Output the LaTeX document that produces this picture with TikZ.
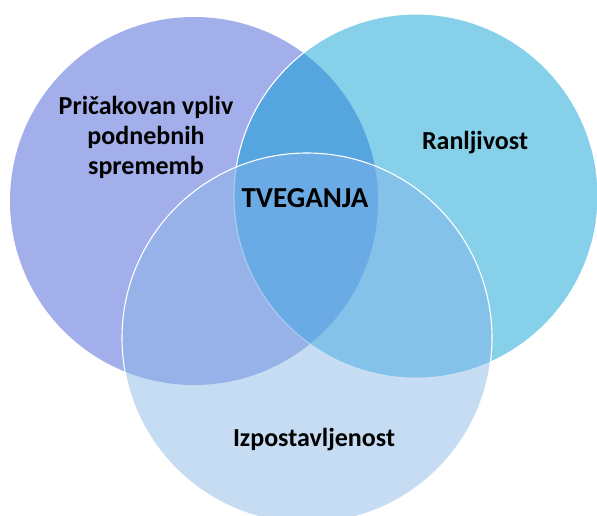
\documentclass[tikz,border=0pt]{standalone}
\usepackage{fontspec}
\setmainfont{Carlito}
\definecolor{vplivfill}{RGB}{163,175,234}
\definecolor{ranljfill}{RGB}{135,208,234}
\definecolor{izpostfill}{RGB}{197,220,243}
\definecolor{vplivranlj}{RGB}{85,165,223}
\definecolor{vplivizpost}{RGB}{150,178,233}
\definecolor{ranljizpost}{RGB}{132,194,233}
\definecolor{tveganjafill}{RGB}{106,171,229}
\tikzset{
  ring-text/.style={font=\bfseries\fontsize{26}{30}\selectfont, align=center, text=black, inner sep=0pt},
  core-text/.style={ring-text, font=\bfseries\fontsize{29}{33}\selectfont},
  ring-line/.style={draw=white, line width=1.1pt}
}
\newcommand{\ringvpliv}{(194,201) circle (184pt)}
\newcommand{\ringranlj}{(416,196) circle (182pt)}
\newcommand{\ringizpost}{(307,338) circle (185pt)}

\begin{document}
\begin{tikzpicture}[x=1pt,y=-1pt]
  \useasboundingbox (0,0) rectangle (597,516);
  \clip (0,0) rectangle (597,516);

  % --- single rings ---
  \fill[vplivfill] \ringvpliv;
  \fill[ranljfill] \ringranlj;
  \begin{scope}
    \clip \ringvpliv;
    \fill[vplivranlj] \ringranlj;
  \end{scope}
  \draw[ring-line] \ringranlj;

  % --- bottom ring and its overlaps ---
  \fill[izpostfill] \ringizpost;
  \begin{scope}
    \clip \ringvpliv;
    \fill[vplivizpost] \ringizpost;
  \end{scope}
  \begin{scope}
    \clip \ringranlj;
    \fill[ranljizpost] \ringizpost;
  \end{scope}
  \begin{scope}
    \clip \ringvpliv;
    \clip \ringranlj;
    \fill[tveganjafill] \ringizpost;
  \end{scope}
  % faint edge of the right ring seen through the bottom one
  \begin{scope}
    \clip \ringizpost;
    \draw[ring-line, draw opacity=0.35] \ringranlj;
  \end{scope}
  \draw[ring-line] \ringizpost;

  % --- labels ---
  \node[ring-text] (vpliv) at (146,137) {Pričakovan vpliv\\podnebnih\\sprememb};
  \node[ring-text] (ranlj) at (475,143) {Ranljivost};
  \node[ring-text] (izpost) at (314,440) {Izpostavljenost};
  \node[core-text] (tveganja) at (305,198) {TVEGANJA};
\end{tikzpicture}
\end{document}
